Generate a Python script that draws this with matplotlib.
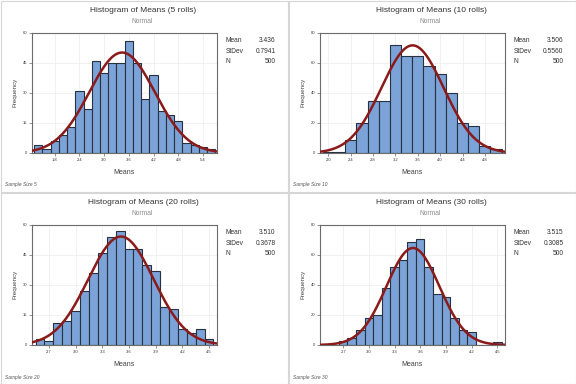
import numpy as np
import matplotlib
matplotlib.use('Agg')
import matplotlib.pyplot as plt
from matplotlib.patches import Rectangle

plt.rcParams['font.family'] = ['Liberation Sans', 'DejaVu Sans']

# --- data ---
rolls = [5, 10, 20, 30]
means = [3.436, 3.506, 3.510, 3.515]
stdevs = [0.7941, 0.5560, 0.3678, 0.3085]
n_obs = [500, 500, 500, 500]
bin_width = [0.2, 0.2, 0.1, 0.1]

centers_5 = [1.4, 1.6, 1.8, 2.0, 2.2, 2.4, 2.6, 2.8, 3.0, 3.2, 3.4, 3.6, 3.8, 4.0,
             4.2, 4.4, 4.6, 4.8, 5.0, 5.2, 5.4, 5.6]
counts_5 = [4, 2, 6, 9, 13, 31, 22, 46, 40, 45, 45, 56, 45, 27, 39, 21, 19, 16, 5, 4, 3, 2]

centers_10 = [2.0, 2.2, 2.4, 2.6, 2.8, 3.0, 3.2, 3.4, 3.6, 3.8, 4.0, 4.2, 4.4, 4.6, 4.8, 5.0]
counts_10 = [1, 1, 9, 20, 35, 35, 72, 65, 65, 58, 53, 40, 20, 18, 5, 3]

centers_20 = [2.6, 2.7, 2.8, 2.9, 3.0, 3.1, 3.2, 3.3, 3.4, 3.5, 3.6, 3.7, 3.8, 3.9,
              4.0, 4.1, 4.2, 4.3, 4.4, 4.5]
counts_20 = [3, 2, 11, 12, 17, 27, 36, 46, 54, 57, 48, 48, 40, 37, 19, 18, 8, 6, 8, 3]

centers_30 = [2.7, 2.8, 2.9, 3.0, 3.1, 3.2, 3.3, 3.4, 3.5, 3.6, 3.7, 3.8, 3.9, 4.0,
              4.1, 4.2, 4.3, 4.4, 4.5]
counts_30 = [3, 5, 10, 18, 20, 38, 52, 57, 69, 71, 52, 34, 32, 18, 10, 9, 0, 0, 2]

xticks_all = [[1.8, 2.4, 3.0, 3.6, 4.2, 4.8, 5.4],
              [2.0, 2.4, 2.8, 3.2, 3.6, 4.0, 4.4, 4.8],
              [2.7, 3.0, 3.3, 3.6, 3.9, 4.2, 4.5],
              [2.7, 3.0, 3.3, 3.6, 3.9, 4.2, 4.5]]
yticks_all = [[0, 15, 30, 45, 60], [0, 20, 40, 60, 80],
              [0, 15, 30, 45, 60], [0, 20, 40, 60, 80]]
xlims = [(1.25, 5.74), (1.85, 5.16), (2.51, 4.59), (2.43, 4.59)]

centers_all = [centers_5, centers_10, centers_20, centers_30]
counts_all = [counts_5, counts_10, counts_20, counts_30]

W, H = 576, 384
fig = plt.figure(figsize=(W / 100, H / 100), dpi=100)
fig.patch.set_facecolor('white')

bar_col = '#7ba3d8'
edge_col = '#27313f'
curve_col = '#8b1a1a'


def fx(px):
    return px / W


def fy(py):
    return 1 - py / H


for i in range(4):
    ox = 288 * (i % 2)
    oy = 192 * (i // 2)

    # panel frame
    fig.patches.append(Rectangle((fx(ox + 0.5), fy(oy + 191.5)), 287 / W, 191 / H,
                                 transform=fig.transFigure, fill=False,
                                 edgecolor='#d6d6d6', lw=0.8))

    ax = fig.add_axes([fx(ox + 32), fy(oy + 153), 185 / W, 120 / H])
    ax.bar(centers_all[i], counts_all[i], width=bin_width[i], color=bar_col,
           edgecolor=edge_col, linewidth=0.8, zorder=2)

    xs = np.linspace(xlims[i][0], xlims[i][1], 300)
    ys = n_obs[i] * bin_width[i] / (stdevs[i] * np.sqrt(2 * np.pi)) * \
        np.exp(-0.5 * ((xs - means[i]) / stdevs[i]) ** 2)
    ax.plot(xs, ys, color=curve_col, lw=1.8, zorder=3)

    ax.set_xlim(*xlims[i])
    ax.set_ylim(0, yticks_all[i][-1])
    ax.set_xticks(xticks_all[i])
    ax.set_yticks(yticks_all[i])
    ax.set_xticklabels(['%.1f' % t for t in xticks_all[i]])
    ax.tick_params(labelsize=3, length=2, width=0.5, color='#666666',
                   labelcolor='#333333', pad=1.5)
    ax.grid(True, color='#ececec', lw=0.5, zorder=0)
    ax.set_axisbelow(True)
    for s in ax.spines.values():
        s.set_color('#6b6b6b')
        s.set_linewidth(0.8)

    fig.text(fx(ox + 143), fy(oy + 11), 'Histogram of Means (%d rolls)' % rolls[i],
             ha='center', va='center', fontsize=6, color='#333333')
    fig.text(fx(ox + 142), fy(oy + 21.5), 'Normal', ha='center', va='center',
             fontsize=4.8, color='#8c8c8c')
    fig.text(fx(ox + 15), fy(oy + 92), 'Frequency', ha='center', va='center',
             rotation=90, fontsize=4.5, color='#444444')
    fig.text(fx(ox + 124.5), fy(oy + 172), 'Means', ha='center', va='center',
             fontsize=5, color='#444444')
    fig.text(fx(ox + 5), fy(oy + 185), 'Sample Size %d' % rolls[i], ha='left',
             va='center', fontsize=3.5, style='italic', color='#555555')

    labels = ['Mean', 'StDev', 'N']
    vals = ['%.3f' % means[i], '%.4f' % stdevs[i], '%d' % n_obs[i]]
    for k in range(3):
        yy = oy + 40.7 + 10.5 * k
        fig.text(fx(ox + 226), fy(yy), labels[k], ha='left', va='center',
                 fontsize=4.8, color='#333333')
        fig.text(fx(ox + 275.5), fy(yy), vals[k], ha='right', va='center',
                 fontsize=4.8, color='#333333')

fig.savefig('out.png', dpi=100)
